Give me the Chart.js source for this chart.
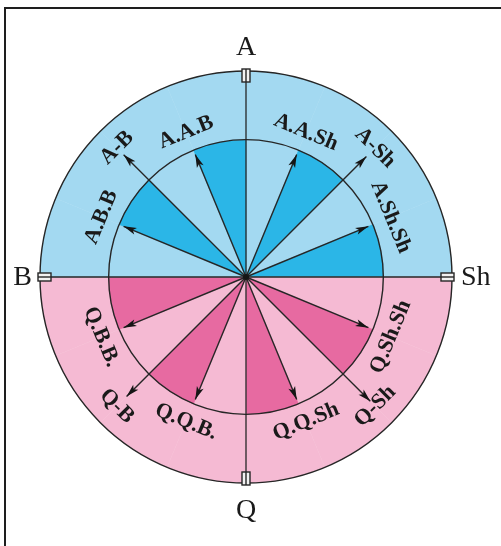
<!DOCTYPE html>
<html>
<head>
<meta charset="utf-8">
<script src="https://cdn.jsdelivr.net/npm/chart.js@4.4.0/dist/chart.umd.min.js"></script>
<style>
  html, body { margin: 0; padding: 0; background: #fff; }
  #wrap { position: relative; width: 501px; height: 546px; overflow: hidden; }
  #frame { position: absolute; left: 4px; top: 7px; right: -10px; bottom: -10px;
           border-left: 2px solid #1e1e1e; border-top: 2px solid #1e1e1e; }
  canvas { position: absolute; left: 0; top: 0; }
</style>
</head>
<body>
<div id="wrap">
  <div id="frame"></div>
  <canvas id="myChart" width="501" height="546"></canvas>
</div>
<script>
// 16 directions, clockwise starting from A (top)
const directions = ['A', 'A.A.Sh', 'A-Sh', 'A.Sh.Sh', 'Sh', 'Q.Sh.Sh', 'Q-Sh', 'Q.Q.Sh',
                    'Q', 'Q.Q.B.', 'Q-B', 'Q.B.B.', 'B', 'A.B.B', 'A-B', 'A.A.B'];
// sector i goes from direction i to direction i+1
const sectorHalf  = ['A', 'A', 'A', 'A', 'Q', 'Q', 'Q', 'Q', 'Q', 'Q', 'Q', 'Q', 'A', 'A', 'A', 'A'];
const sectorShade = ['light', 'dark', 'light', 'dark', 'light', 'dark', 'light', 'dark',
                     'light', 'dark', 'light', 'dark', 'light', 'dark', 'light', 'dark'];
const innerRing = [2, 2, 2, 2, 2, 2, 2, 2, 2, 2, 2, 2, 2, 2, 2, 2];
const outerRing = [3, 3, 3, 3, 3, 3, 3, 3, 3, 3, 3, 3, 3, 3, 3, 3];
// arrow lengths along each direction (0 = no arrow)
const arrowLength = [0, 1.93, 2.48, 1.93, 0, 1.93, 2.56, 1.93, 0, 1.93, 2.46, 1.93, 0, 1.93, 2.52, 1.93];

const palette = {
  A: { light: '#a3d9f1', dark: '#2bb6e7' },
  Q: { light: '#f5bad3', dark: '#e76aa1' }
};
const innerColors = sectorHalf.map((h, i) => palette[h][sectorShade[i]]);
const outerColors = sectorHalf.map(h => palette[h].light);
const ink = '#262626';

const compassPlugin = {
  id: 'compass',
  afterDraw(chart) {
    const ctx = chart.ctx;
    const r = chart.scales.r;
    const cx = r.xCenter, cy = r.yCenter;

    // arrows
    ctx.save();
    ctx.strokeStyle = ink;
    ctx.fillStyle = '#151515';
    ctx.lineWidth = 1.4;
    arrowLength.forEach((len, i) => {
      if (!len) return;
      const tip = r.getPointPositionForValue(i, len);
      ctx.beginPath();
      ctx.moveTo(cx, cy);
      ctx.lineTo(tip.x, tip.y);
      ctx.stroke();
      const a = Math.atan2(tip.y - cy, tip.x - cx);
      ctx.save();
      ctx.translate(tip.x, tip.y);
      ctx.rotate(a);
      ctx.beginPath();
      ctx.moveTo(0, 0);
      ctx.lineTo(-13, -3.6);
      ctx.lineTo(-10, 0);
      ctx.lineTo(-13, 3.6);
      ctx.closePath();
      ctx.fill();
      ctx.restore();
    });
    ctx.beginPath();
    ctx.arc(cx, cy, 3, 0, Math.PI * 2);
    ctx.fill();

    // notches on the outer circle at A, Sh, Q, B
    [0, 4, 8, 12].forEach(i => {
      const p = r.getPointPositionForValue(i, 3);
      ctx.save();
      ctx.translate(p.x, p.y);
      ctx.rotate(p.angle);
      ctx.fillStyle = '#f2f2f2';
      ctx.fillRect(-11, -4, 13, 8);
      ctx.strokeRect(-11, -4, 13, 8);
      ctx.beginPath();
      ctx.moveTo(-11, 0);
      ctx.lineTo(2, 0);
      ctx.stroke();
      ctx.restore();
    });

    // rotated direction names in the outer ring
    ctx.fillStyle = '#1a1a1a';
    ctx.font = 'bold 22px "Liberation Serif"';
    ctx.textAlign = 'center';
    ctx.textBaseline = 'middle';
    directions.forEach((name, i) => {
      if (i % 4 === 0) return;
      const major = i % 2 === 0;
      const p = r.getPointPositionForValue(i, major ? 2.66 : 2.28);
      const upper = Math.sin(p.angle) < 0;
      ctx.save();
      ctx.translate(p.x, p.y);
      ctx.rotate(upper ? p.angle + Math.PI / 2 : p.angle - Math.PI / 2);
      ctx.fillText(name, 0, 0);
      ctx.restore();
    });

    // cardinal names outside
    ctx.font = '28px "Liberation Serif"';
    let p = r.getPointPositionForValue(0, 3);
    ctx.textAlign = 'center'; ctx.textBaseline = 'alphabetic';
    ctx.fillText(directions[0], p.x, p.y - 16);
    p = r.getPointPositionForValue(4, 3);
    ctx.textAlign = 'left'; ctx.textBaseline = 'middle';
    ctx.fillText(directions[4], p.x + 9, p.y + 1);
    p = r.getPointPositionForValue(8, 3);
    ctx.textAlign = 'center'; ctx.textBaseline = 'top';
    ctx.fillText(directions[8], p.x, p.y + 14);
    p = r.getPointPositionForValue(12, 3);
    ctx.textAlign = 'right'; ctx.textBaseline = 'middle';
    ctx.fillText(directions[12], p.x - 8, p.y + 1);
    ctx.restore();
  }
};

const ctx = document.getElementById('myChart').getContext('2d');
const chart = new Chart(ctx, {
  type: 'polarArea',
  data: {
    labels: directions,
    datasets: [
      { data: innerRing, backgroundColor: innerColors, borderColor: innerColors, borderWidth: 0.5 },
      { data: outerRing, backgroundColor: outerColors, borderColor: outerColors, borderWidth: 0.5 }
    ]
  },
  options: {
    responsive: false,
    animation: false,
    layout: { padding: { left: 40, right: 48, top: 71, bottom: 62 } },
    plugins: { legend: { display: false }, tooltip: { enabled: false } },
    scales: {
      r: {
        min: 0,
        max: 3,
        ticks: { display: false, stepSize: 1 },
        pointLabels: { display: false },
        grid: {
          z: 1,
          lineWidth: 1.4,
          color: (c) => (c.tick && c.tick.value >= 2 ? ink : 'rgba(0,0,0,0)')
        },
        angleLines: {
          display: true,
          lineWidth: 1.3,
          color: (c) => (c.index % 4 === 0 ? ink : 'rgba(0,0,0,0)')
        }
      }
    }
  },
  plugins: [compassPlugin]
});
</script>
</body>
</html>
